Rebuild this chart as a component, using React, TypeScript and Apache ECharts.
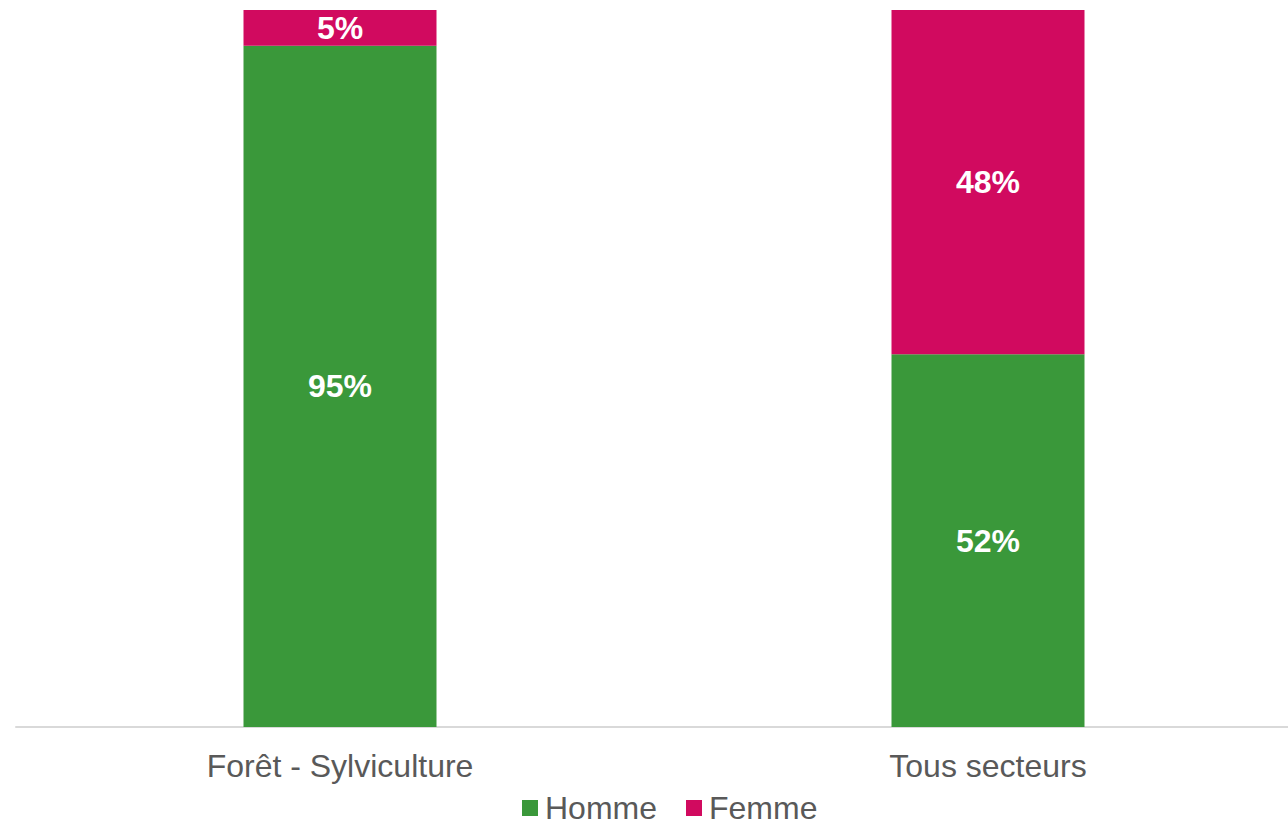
import React, { useEffect, useRef } from "react";
import * as echarts from "echarts";

const categories = ["Forêt - Sylviculture", "Tous secteurs"];
const homme = [95, 52];
const femme = [5, 48];

export default function App() {
  const ref = useRef<HTMLDivElement>(null);
  useEffect(() => {
    const chart = echarts.init(ref.current!, null, { renderer: "svg" });
    const labelStyle = {
      show: true,
      position: "inside" as const,
      color: "#ffffff",
      fontWeight: "bold" as const,
      fontSize: 32,
      fontFamily: "Liberation Sans, Arial, sans-serif",
      formatter: (p: any) => p.value + "%",
    };
    chart.setOption({
      animation: false,
      backgroundColor: "#ffffff",
      grid: {
        left: 16,
        width: 1296,
        top: 10,
        bottom: 95,
        containLabel: false,
        outerBoundsMode: "none",
      },
      legend: {
        data: ["Homme", "Femme"],
        left: 522,
        top: 792,
        padding: 0,
        itemWidth: 16,
        itemHeight: 16,
        itemGap: 29,
        icon: "rect",
        textStyle: {
          color: "#595959",
          fontSize: 32,
          lineHeight: 20,
          padding: [0, 0, 0, 2],
          fontFamily: "Liberation Sans, Arial, sans-serif",
        },
      },
      xAxis: {
        type: "category",
        data: categories,
        axisLine: { lineStyle: { color: "#d9d9d9", width: 2 } },
        axisTick: { show: false },
        axisLabel: {
          color: "#595959",
          fontSize: 32,
          fontFamily: "Liberation Sans, Arial, sans-serif",
          margin: 23,
        },
      },
      yAxis: {
        type: "value",
        min: 0,
        max: 100,
        show: false,
        splitLine: { show: false },
      },
      series: [
        {
          name: "Homme",
          type: "bar",
          stack: "total",
          data: homme,
          barWidth: 193,
          itemStyle: { color: "#3a983a" },
          label: labelStyle,
        },
        {
          name: "Femme",
          type: "bar",
          stack: "total",
          data: femme,
          barWidth: 193,
          itemStyle: { color: "#d10a5f" },
          label: labelStyle,
        },
      ],
    });
    return () => chart.dispose();
  }, []);
  return (
    <div
      ref={ref}
      style={{ position: "fixed", left: 0, top: 0, width: 1288, height: 822, overflow: "hidden" }}
    />
  );
}
